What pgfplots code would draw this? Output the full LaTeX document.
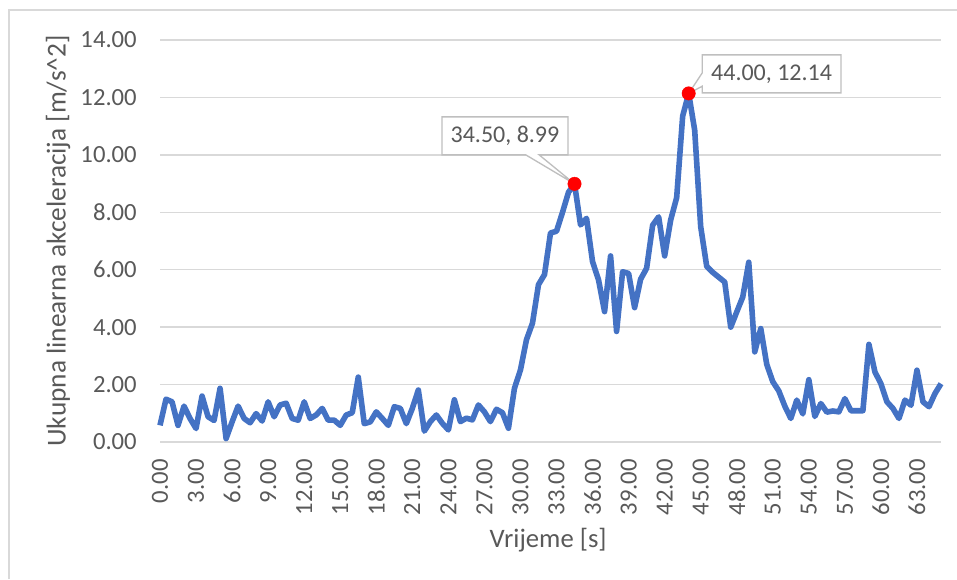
\documentclass[border=0pt]{standalone}
\usepackage{pgfplots}
\pgfplotsset{compat=1.18}
\usepackage{fontspec}
\setmainfont{Carlito}
\usetikzlibrary{shapes.callouts}
\definecolor{lineblue}{HTML}{4472C4}
\definecolor{gridgray}{HTML}{D9D9D9}
\definecolor{txtgray}{HTML}{595959}
\definecolor{boxgray}{HTML}{BFBFBF}
\definecolor{framegray}{HTML}{D9D9D9}
\begin{document}
\begin{tikzpicture}
\path[use as bounding box] (0,0) rectangle (717.75pt,434.25pt);
\draw[framegray, line width=0.9pt] (6.75pt,0pt) -- (6.75pt,426.75pt) -- (717.75pt,426.75pt);
\begin{axis}[
  at={(120pt,102.75pt)}, anchor=south west,
  width=585.75pt, height=301.5pt, scale only axis,
  xmin=0, xmax=65, ymin=0, ymax=14,
  clip=false,
  axis line style={draw=none},
  major tick length=0pt,
  ymajorgrids, grid style={gridgray, line width=1.1pt},
  ytick={0,2,4,6,8,10,12,14},
  yticklabels={0.00,2.00,4.00,6.00,8.00,10.00,12.00,14.00},
  xtick={0,3,6,9,12,15,18,21,24,27,30,33,36,39,42,45,48,51,54,57,60,63},
  xticklabels={0.00,3.00,6.00,9.00,12.00,15.00,18.00,21.00,24.00,27.00,30.00,33.00,36.00,39.00,42.00,45.00,48.00,51.00,54.00,57.00,60.00,63.00},
  xticklabel style={rotate=90, anchor=east, inner sep=0pt, text=txtgray, font=\fontsize{18.5}{21}\selectfont},
  yticklabel style={anchor=east, inner sep=0pt, text=txtgray, font=\fontsize{18.5}{21}\selectfont},
  xticklabel shift=12.75pt,
  yticklabel shift=17.25pt,
  xlabel={Vrijeme [s]},
  ylabel={Ukupna linearna akceleracija [m/s\textasciicircum 2]},
  xlabel style={at={(axis description cs:0.497,-0.2438)}, anchor=center, text=txtgray, font=\fontsize{20}{23}\selectfont},
  ylabel style={at={(axis description cs:-0.1306,0.5)}, anchor=center, text=txtgray, font=\fontsize{20.5}{23}\selectfont},
]
\addplot[lineblue, line width=4.2pt, line join=round, no markers] table {
t v
0.0 0.58
0.5 1.49
1.0 1.40
1.5 0.58
2.0 1.25
2.5 0.82
3.0 0.47
3.5 1.60
4.0 0.88
4.5 0.75
5.0 1.87
5.5 0.12
6.0 0.70
6.5 1.25
7.0 0.82
7.5 0.67
8.0 0.99
8.5 0.73
9.0 1.40
9.5 0.88
10.0 1.29
10.5 1.35
11.0 0.82
11.5 0.76
12.0 1.40
12.5 0.82
13.0 0.94
13.5 1.17
14.0 0.76
14.5 0.76
15.0 0.58
15.5 0.94
16.0 1.02
16.5 2.26
17.0 0.64
17.5 0.70
18.0 1.05
18.5 0.82
19.0 0.58
19.5 1.23
20.0 1.17
20.5 0.64
21.0 1.17
21.5 1.81
22.0 0.38
22.5 0.71
23.0 0.94
23.5 0.65
24.0 0.42
24.5 1.47
25.0 0.71
25.5 0.83
26.0 0.77
26.5 1.29
27.0 1.05
27.5 0.71
28.0 1.14
28.5 1.02
29.0 0.48
29.5 1.87
30.0 2.51
30.5 3.56
31.0 4.14
31.5 5.48
32.0 5.83
32.5 7.28
33.0 7.34
33.5 8.00
34.0 8.70
34.5 8.99
35.0 7.56
35.5 7.79
36.0 6.28
36.5 5.64
37.0 4.54
37.5 6.48
38.0 3.85
38.5 5.93
39.0 5.87
39.5 4.68
40.0 5.67
40.5 6.05
41.0 7.55
41.5 7.84
42.0 6.48
42.5 7.73
43.0 8.51
43.5 11.35
44.0 12.14
44.5 10.86
45.0 7.50
45.5 6.12
46.0 5.91
46.5 5.74
47.0 5.57
47.5 4.00
48.0 4.53
48.5 5.05
49.0 6.26
49.5 3.14
50.0 3.95
50.5 2.70
51.0 2.10
51.5 1.78
52.0 1.25
52.5 0.82
53.0 1.46
53.5 0.98
54.0 2.17
54.5 0.89
55.0 1.34
55.5 1.04
56.0 1.08
56.5 1.05
57.0 1.51
57.5 1.09
58.0 1.09
58.5 1.09
59.0 3.40
59.5 2.44
60.0 2.03
60.5 1.40
61.0 1.17
61.5 0.82
62.0 1.46
62.5 1.28
63.0 2.50
63.5 1.40
64.0 1.23
64.5 1.69
65.0 2.03
};
\node[rectangle callout, draw=boxgray, line width=1pt, fill=white, text=txtgray,
      font=\fontsize{18}{21}\selectfont, inner sep=0pt,
      minimum width=94.5pt, minimum height=28.5pt, callout pointer width=10pt,
      callout absolute pointer={(axis cs:34.5,8.99)}]
      at (axis cs:28.71,10.66) {34.50, 8.99};
\node[rectangle callout, draw=boxgray, line width=1pt, fill=white, text=txtgray,
      font=\fontsize{18}{21}\selectfont, inner sep=0pt,
      minimum width=104pt, minimum height=28.5pt, callout pointer width=10pt,
      callout absolute pointer={(axis cs:44,12.14)}]
      at (axis cs:50.9,12.82) {44.00, 12.14};
\addplot[only marks, mark=*, mark size=5pt, color=red, fill=red] coordinates {(34.5,8.99) (44,12.14)};
\end{axis}
\end{tikzpicture}
\end{document}
